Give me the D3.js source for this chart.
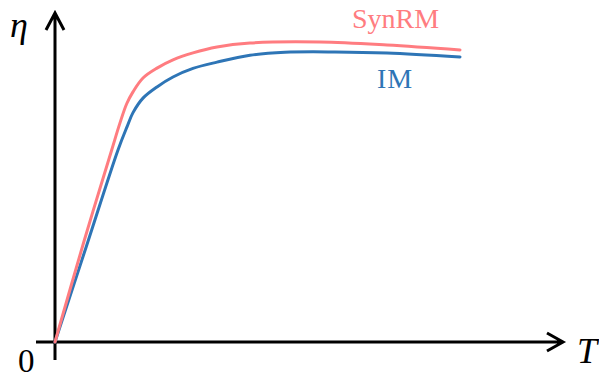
<!DOCTYPE html>
<html>
<head>
<meta charset="utf-8">
<script src="https://cdn.jsdelivr.net/npm/d3@7"></script>
<style>
    body { margin: 0; background: #fff; }
    svg { display: block; }
</style>
</head>
<body>
<svg></svg>
<script>
// torque T (arbitrary units) and efficiency eta
let torqueSyn = [0, 0.57, 1.134, 1.3, 1.434, 1.56, 1.76, 2.04, 2.36, 2.76, 3.24, 3.9, 5.3, 6.64, 8.1]
let etaSyn    = [0, 0.3, 0.582, 0.664, 0.722, 0.758, 0.8, 0.83, 0.855, 0.876, 0.894, 0.906, 0.909, 0.900, 0.885]

let torqueIM = [0, 0.63, 1.26, 1.44, 1.56, 1.76, 2.04, 2.36, 2.76, 3.24, 3.9, 4.6, 5.6, 6.64, 8.1]
let etaIM    = [0, 0.291, 0.582, 0.652, 0.695, 0.739, 0.773, 0.803, 0.829, 0.848, 0.869, 0.878, 0.879, 0.876, 0.864]

let seriesNames = ['SynRM', 'IM']
let axisLabels = ['η', 'T', '0']

let width = 599
let height = 378

let svg = d3.select('svg')
    .attr('width', width)
    .attr('height', height)

let xScale = d3.scaleLinear().domain([0, 10]).range([55, 555])
let yScale = d3.scaleLinear().domain([0, 1]).range([342, 12])

let line = d3.line()
    .x(d => xScale(d[0]))
    .y(d => yScale(d[1]))
    .curve(d3.curveCatmullRom.alpha(0.5))

// axes with open arrow heads
let x0 = xScale(0)
let y0 = yScale(0)
let xEnd = 563
let yEnd = 13

svg.append('path')
    .attr('d', `M${x0 - 19},${y0} H${xEnd} M${xEnd - 16},${y0 - 9} L${xEnd},${y0} L${xEnd - 16},${y0 + 9}`)
    .attr('fill', 'none')
    .attr('stroke', '#000')
    .attr('stroke-width', 3)

svg.append('path')
    .attr('d', `M${x0},${y0 + 18} V${yEnd} M${x0 - 9},${yEnd + 17} L${x0},${yEnd} L${x0 + 9},${yEnd + 17}`)
    .attr('fill', 'none')
    .attr('stroke', '#000')
    .attr('stroke-width', 3)

let drawCurve = (xs, ys, colour) => {
    svg.append('path')
        .datum(xs.map((t, i) => [t, ys[i]]))
        .attr('d', line)
        .attr('fill', 'none')
        .attr('stroke', colour)
        .attr('stroke-width', 3)
        .attr('stroke-linecap', 'round')
}

drawCurve(torqueIM, etaIM, '#2e75b6')
drawCurve(torqueSyn, etaSyn, '#ff7c80')

// labels
svg.append('text')
    .attr('x', 352).attr('y', 28)
    .attr('font-family', 'Liberation Serif')
    .attr('font-size', 28)
    .attr('fill', '#ff7c80')
    .text(seriesNames[0])

svg.append('text')
    .attr('x', 377).attr('y', 88)
    .attr('font-family', 'Liberation Serif')
    .attr('font-size', 28)
    .attr('letter-spacing', 1)
    .attr('fill', '#2e75b6')
    .text(seriesNames[1])

svg.append('text')
    .attr('x', 10).attr('y', 37)
    .attr('font-family', 'Liberation Serif')
    .attr('font-style', 'italic')
    .attr('font-size', 36)
    .text(axisLabels[0])

svg.append('text')
    .attr('x', 577).attr('y', 363)
    .attr('font-family', 'Liberation Serif')
    .attr('font-style', 'italic')
    .attr('font-size', 36)
    .text(axisLabels[1])

svg.append('text')
    .attr('x', 18).attr('y', 372)
    .attr('font-family', 'Liberation Serif')
    .attr('font-size', 33)
    .text(axisLabels[2])
</script>
</body>
</html>
